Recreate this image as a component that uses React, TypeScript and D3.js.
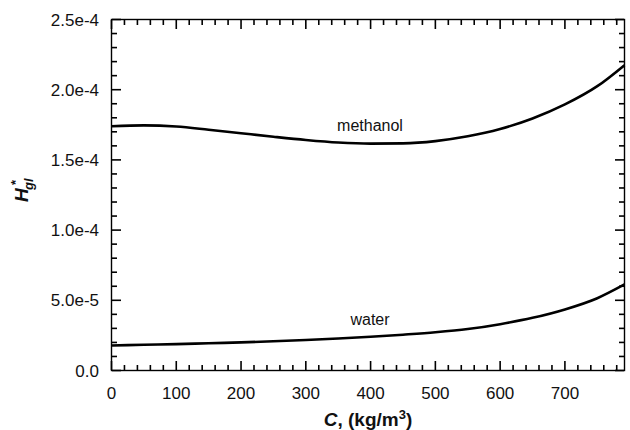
import React from "react";
import * as d3 from "d3";

// Concentration C (kg/m^3) sample points
const concentration = [0, 50, 100, 150, 200, 250, 300, 350, 400, 450, 500, 550, 600, 650, 700, 750, 792];
// H*_gl for methanol
const methanol = [1.74e-4, 1.746e-4, 1.738e-4, 1.715e-4, 1.69e-4, 1.665e-4, 1.642e-4, 1.624e-4, 1.616e-4, 1.618e-4, 1.634e-4, 1.668e-4, 1.72e-4, 1.795e-4, 1.895e-4, 2.025e-4, 2.175e-4];
// H*_gl for water
const water = [1.78e-5, 1.83e-5, 1.88e-5, 1.94e-5, 2.0e-5, 2.08e-5, 2.17e-5, 2.28e-5, 2.4e-5, 2.55e-5, 2.72e-5, 2.95e-5, 3.3e-5, 3.75e-5, 4.35e-5, 5.15e-5, 6.13e-5];

const xTicks = [0, 100, 200, 300, 400, 500, 600, 700];
const yTicks = [0, 5e-5, 1e-4, 1.5e-4, 2e-4, 2.5e-4];
const yTickLabels = ["0.0", "5.0e-5", "1.0e-4", "1.5e-4", "2.0e-4", "2.5e-4"];

const W = 630;
const H = 430;
const plotLeft = 111.5;
const plotRight = 624.5;
const plotTop = 19.5;
const plotBottom = 370.5;

export default function App() {
  const x = d3.scaleLinear().domain([0, 792]).range([plotLeft, plotRight]);
  const y = d3.scaleLinear().domain([0, 2.5e-4]).range([plotBottom, plotTop]);

  const curvePath = d3
    .line<number>()
    .x((_, i) => x(concentration[i]))
    .y((d) => y(d))
    .curve(d3.curveMonotoneX);

  const xMinor = d3.range(0, 792, 20);
  const yMinor = d3.range(0, 26);
  const major = 9;
  const minor = 5;
  const tickColor = "#000";
  const tickWidth = 1.6;

  const font = "'Liberation Sans', Arial, Helvetica, sans-serif";

  return (
    <svg
      width={W}
      height={H}
      style={{ position: "absolute", left: 0, top: 0, background: "#fff" }}
      fontFamily={font}
    >
      {/* frame */}
      <rect x={plotLeft} y={plotTop} width={plotRight - plotLeft} height={plotBottom - plotTop} fill="none" stroke="#000" strokeWidth={1.4} />

      {/* inward tick marks on all four sides */}
      {xMinor.map((v) => (
        <line key={"b" + v} x1={x(v)} x2={x(v)} y1={370} y2={v % 100 === 0 ? 370 - major : 370 - minor} stroke={tickColor} strokeWidth={tickWidth} />
      ))}
      {xMinor.map((v) => (
        <line key={"t" + v} x1={x(v)} x2={x(v)} y1={20} y2={v % 100 === 0 ? 20 + major : 20 + minor} stroke={tickColor} strokeWidth={tickWidth} />
      ))}
      {yMinor.map((i) => (
        <line key={"l" + i} x1={112} x2={i % 5 === 0 ? 112 + major : 112 + minor} y1={y(i * 1e-5)} y2={y(i * 1e-5)} stroke={tickColor} strokeWidth={tickWidth} />
      ))}
      {yMinor.map((i) => (
        <line key={"r" + i} x1={624} x2={i % 5 === 0 ? 624 - major : 624 - minor} y1={y(i * 1e-5)} y2={y(i * 1e-5)} stroke={tickColor} strokeWidth={tickWidth} />
      ))}

      {/* tick labels */}
      {xTicks.map((v) => (
        <text key={"xlab" + v} x={x(v)} y={399} textAnchor="middle" fontSize={17} fill="#111">
          {v}
        </text>
      ))}
      {yTicks.map((v, i) => (
        <text key={"ylab" + i} x={99} y={y(v) + 6} textAnchor="end" fontSize={17} fill="#111">
          {yTickLabels[i]}
        </text>
      ))}

      {/* curves */}
      <path d={curvePath(methanol) ?? ""} fill="none" stroke="#000" strokeWidth={2.6} />
      <path d={curvePath(water) ?? ""} fill="none" stroke="#000" strokeWidth={2.6} />

      {/* curve labels */}
      <text x={370} y={131} textAnchor="middle" fontSize={16} fill="#111">methanol</text>
      <text x={370} y={325} textAnchor="middle" fontSize={16} fill="#111">water</text>

      {/* x axis title */}
      <text x={368} y={426} textAnchor="middle" fontSize={19} fontWeight="bold" fill="#111">
        <tspan fontStyle="italic">C</tspan>
        <tspan>, (kg/m</tspan>
        <tspan dy={-7} fontSize={13}>3</tspan>
        <tspan dy={7}>)</tspan>
      </text>

      {/* y axis title */}
      <g transform="translate(28,202) rotate(-90)" fill="#111" fontWeight="bold" fontStyle="italic">
        <text x={0} y={0} fontSize={19}>H</text>
        <text x={12} y={5} fontSize={13}>gl</text>
        <text x={17} y={-8} fontSize={13} fontStyle="normal">*</text>
      </g>
    </svg>
  );
}
